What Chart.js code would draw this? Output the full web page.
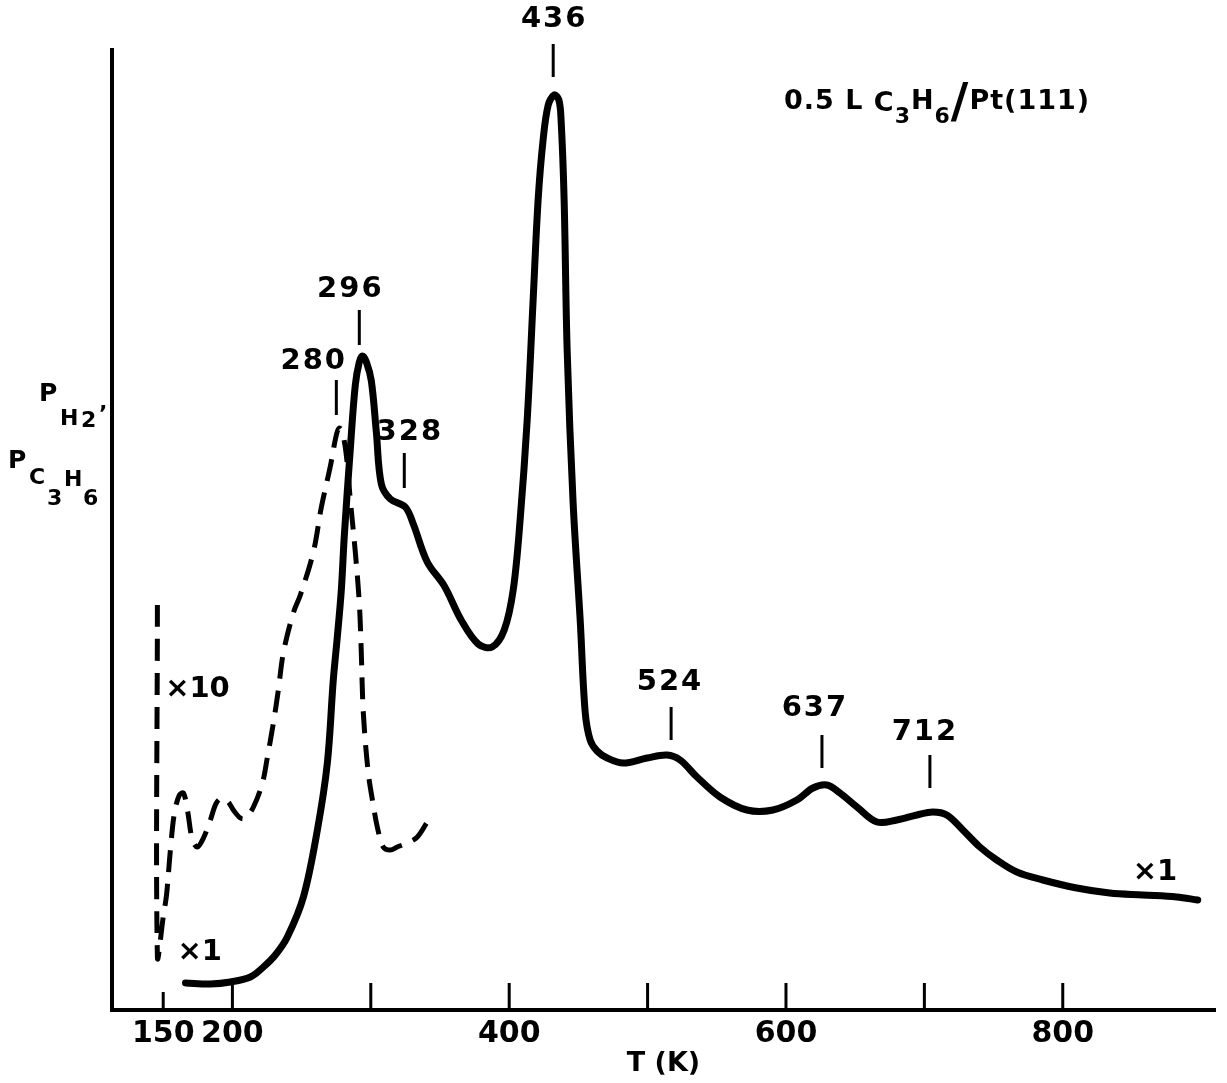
<!DOCTYPE html>
<html>
<head>
<meta charset="utf-8">
<script src="https://cdn.jsdelivr.net/npm/chart.js@4.4.1/dist/chart.umd.min.js"></script>
<style>
html, body { margin: 0; padding: 0; background: #fff; }
#wrap { width: 1227px; height: 1083px; position: relative; }
</style>
</head>
<body>
<div id="wrap"><canvas id="tpd"></canvas></div>
<script>
// x1 trace: temperature (K) and signal (arb. units)
const solidT = [166.1, 184.1, 198.6, 213.0, 222.4, 231.0, 239.7, 251.3, 261.4, 268.6, 272.9, 275.8, 278.7, 280.9,
  285.2, 288.8, 291.7, 293.9, 296.8, 300.4, 304.0, 307.6, 314.1, 324.9, 330.7, 340.8, 353.1, 365.3, 377.6, 387.7,
  396.4, 402.9, 407.9, 413.0, 417.3, 420.9, 424.5, 428.2, 432.5, 435.9, 437.5, 439.7, 441.9, 446.2, 451.3, 454.9,
  458.5, 463.5, 470.8, 482.3, 499.6, 514.1, 523.5, 535.7, 552.3, 571.8, 590.6, 607.9, 619.5, 629.6, 639.0, 651.3,
  665.7, 680.1, 694.6, 706.1, 716.2, 727.8, 740.1, 752.3, 766.8, 785.6, 810.1, 833.9, 857.8, 882.3, 897.5];
const solidV = [2.7, 2.6, 2.8, 3.3, 4.3, 5.5, 7.3, 11.3, 18.0, 24.7, 33.0, 37.3, 42.0, 47.5,
  56.1, 62.5, 64.8, 65.4, 64.8, 62.9, 57.8, 52.6, 51.1, 50.3, 48.6, 44.8, 42.4, 39.0, 36.6, 36.3,
  38.0, 42.0, 49.0, 59.0, 71.0, 81.0, 87.0, 90.5, 91.5, 91.0, 89.0, 81.0, 65.9, 50.7, 39.0, 29.8,
  27.0, 25.9, 25.2, 24.7, 25.2, 25.5, 25.0, 23.3, 21.3, 20.0, 20.0, 21.0, 22.2, 22.5, 21.7, 20.3,
  18.8, 19.0, 19.5, 19.8, 19.5, 18.0, 16.3, 15.0, 13.8, 13.0, 12.2, 11.7, 11.5, 11.3, 11.0];

// x10 trace (dashed)
const dashT = [145.8, 145.8, 150.2, 152.4, 155.2, 158.1, 161.7, 164.6, 167.5, 171.1, 174.7, 179.1, 184.1, 188.4,
  192.8, 197.1, 200.7, 205.8, 209.4, 215.2, 221.7, 225.3, 229.6, 233.2, 236.8, 244.0, 249.1, 258.5, 264.3, 270.8,
  275.1, 277.3, 279.4, 282.3, 285.2, 288.8, 291.7, 293.1, 294.6, 298.2, 301.8, 304.7, 309.0, 314.1, 319.1, 326.4,
  333.6, 340.8];
const dashV = [40.5, 5.3, 9.5, 11.5, 16.0, 19.7, 21.5, 21.7, 20.0, 17.0, 16.3, 17.2, 19.0, 20.7,
  21.2, 20.8, 20.0, 19.2, 19.2, 20.3, 22.7, 25.3, 28.7, 32.0, 35.7, 39.7, 41.5, 45.8, 50.3, 54.4,
  57.5, 58.2, 57.8, 55.5, 51.0, 45.8, 40.7, 35.9, 29.7, 23.7, 20.5, 18.3, 16.3, 16.0, 16.3, 16.7,
  17.3, 18.8];

const tickValues = [150, 200, 300, 400, 500, 600, 700, 800];
const tickLabels = ['150', '200', '', '400', '', '600', '', '800'];

// peak temperatures written on the figure
const peakNames = ['436', '296', '280', '328', '524', '637', '712'];

// where each peak label and its marker sit (T, signal)
const peakSpots = [
  { tx: 432.5, ty: 99.1, mx: 431.8, m1: 96.6, m2: 93.3 },
  { tx: 285.2, ty: 72.1, mx: 291.7, m1: 70.0, m2: 66.5 },
  { tx: 258.8, ty: 64.9, mx: 275.1, m1: 63.0, m2: 59.5 },
  { tx: 328.2, ty: 57.8, mx: 324.2, m1: 55.7, m2: 52.2 },
  { tx: 516.2, ty: 32.8, mx: 517.0, m1: 30.3, m2: 27.0 },
  { tx: 620.9, ty: 30.2, mx: 626.0, m1: 27.5, m2: 24.2 },
  { tx: 700.4, ty: 27.8, mx: 704.0, m1: 25.5, m2: 22.2 }
];
const gains = [
  { text: '\u00d710', x: 151.4, y: 32.1 },
  { text: '\u00d71', x: 160.3, y: 5.8 },
  { text: '\u00d71', x: 850.5, y: 13.8 }
];

const FONT = '"DejaVu Sans", "Noto Sans", sans-serif';

function drawRuns(ctx, x, y, parts) {
  parts.forEach(([txt, size, dy]) => {
    ctx.font = 'bold ' + size + 'px ' + FONT;
    ctx.fillText(txt, x, y + dy);
    x += ctx.measureText(txt).width;
  });
}

const decor = {
  id: 'decor',
  afterDatasetsDraw(chart) {
    const { ctx, chartArea } = chart;
    const x = chart.scales.x, y = chart.scales.y;
    ctx.save();
    ctx.strokeStyle = '#000';
    ctx.fillStyle = '#000';
    ctx.lineCap = 'butt';

    // tick marks point up into the plot
    ctx.lineWidth = 3;
    tickValues.forEach((v, i) => {
      const px = x.getPixelForValue(v);
      ctx.beginPath();
      ctx.moveTo(px, chartArea.bottom);
      ctx.lineTo(px, chartArea.bottom - (i === 0 ? 18 : 27));
      ctx.stroke();
    });

    // peak labels with their little markers
    ctx.textAlign = 'center';
    ctx.textBaseline = 'middle';
    ctx.font = 'bold 29px ' + FONT;
    ctx.letterSpacing = '2px';
    peakSpots.forEach((p, i) => {
      ctx.fillText(peakNames[i], x.getPixelForValue(p.tx), y.getPixelForValue(p.ty));
      const mx = x.getPixelForValue(p.mx);
      ctx.beginPath();
      ctx.moveTo(mx, y.getPixelForValue(p.m1));
      ctx.lineTo(mx, y.getPixelForValue(p.m2));
      ctx.stroke();
    });

    ctx.textAlign = 'left';
    ctx.letterSpacing = '0px';
    gains.forEach(g => {
      ctx.fillText(g.text, x.getPixelForValue(g.x), y.getPixelForValue(g.y));
    });

    // title and y label
    ctx.textBaseline = 'alphabetic';
    ctx.letterSpacing = '1px';
    drawRuns(ctx, 784, 109, [['0.5 L ', 27, 0], ['C', 27, 2], ['3', 22, 14], ['H', 27, 0], ['6', 22, 14],
      ['/', 48, 8], ['Pt(111)', 27, 0]]);

    ctx.letterSpacing = '0px';
    ctx.font = 'bold 25px ' + FONT;
    ctx.fillText('P', 39, 401);
    ctx.font = 'bold 22px ' + FONT;
    ctx.fillText('H', 60, 425);
    ctx.fillText('2', 81, 427);
    ctx.fillText('\u2019', 99, 421);
    ctx.font = 'bold 25px ' + FONT;
    ctx.fillText('P', 8, 468);
    ctx.font = 'bold 22px ' + FONT;
    ctx.fillText('C', 29, 484);
    ctx.fillText('3', 47, 505);
    ctx.fillText('H', 64, 486);
    ctx.fillText('6', 83, 505);
    ctx.restore();
  }
};

new Chart(document.getElementById('tpd'), {
  type: 'line',
  data: {
    datasets: [
      {
        label: '\u00d71',
        data: solidT.map((t, i) => ({ x: t, y: solidV[i] })),
        borderColor: '#000',
        borderWidth: 7,
        pointRadius: 0,
        tension: 0.35,
        borderCapStyle: 'round',
        borderJoinStyle: 'round'
      },
      {
        label: '\u00d710',
        data: dashT.map((t, i) => ({ x: t, y: dashV[i] })),
        borderColor: '#000',
        borderWidth: 5,
        borderDash: [22, 12],
        pointRadius: 0,
        tension: 0.35
      }
    ]
  },
  options: {
    responsive: true,
    maintainAspectRatio: false,
    animation: false,
    devicePixelRatio: 1,
    layout: { padding: { left: 112, top: 50, right: 12, bottom: 0 } },
    plugins: { legend: { display: false }, tooltip: { enabled: false } },
    scales: {
      x: {
        type: 'linear',
        min: 113,
        max: 910,
        afterBuildTicks: s => { s.ticks = tickValues.map(v => ({ value: v })); },
        afterFit: s => { s.height = 73; },
        grid: { display: false, drawTicks: false },
        border: { display: true, color: '#000', width: 4 },
        ticks: {
          autoSkip: false, maxRotation: 0, color: '#000', padding: 6,
          font: { family: 'DejaVu Sans', size: 30, weight: 'bold' },
          callback: (v, i) => tickLabels[i]
        },
        title: {
          display: true, text: 'T (K)', color: '#000',
          font: { family: 'DejaVu Sans', size: 27, weight: 'bold' },
          padding: { top: 0, bottom: 3 }
        }
      },
      y: {
        min: 0,
        max: 96,
        afterFit: s => { s.width = 0; },
        ticks: { display: false },
        grid: { display: false, drawTicks: false },
        border: { display: true, color: '#000', width: 4 }
      }
    }
  },
  plugins: [decor]
});
</script>
</body>
</html>
